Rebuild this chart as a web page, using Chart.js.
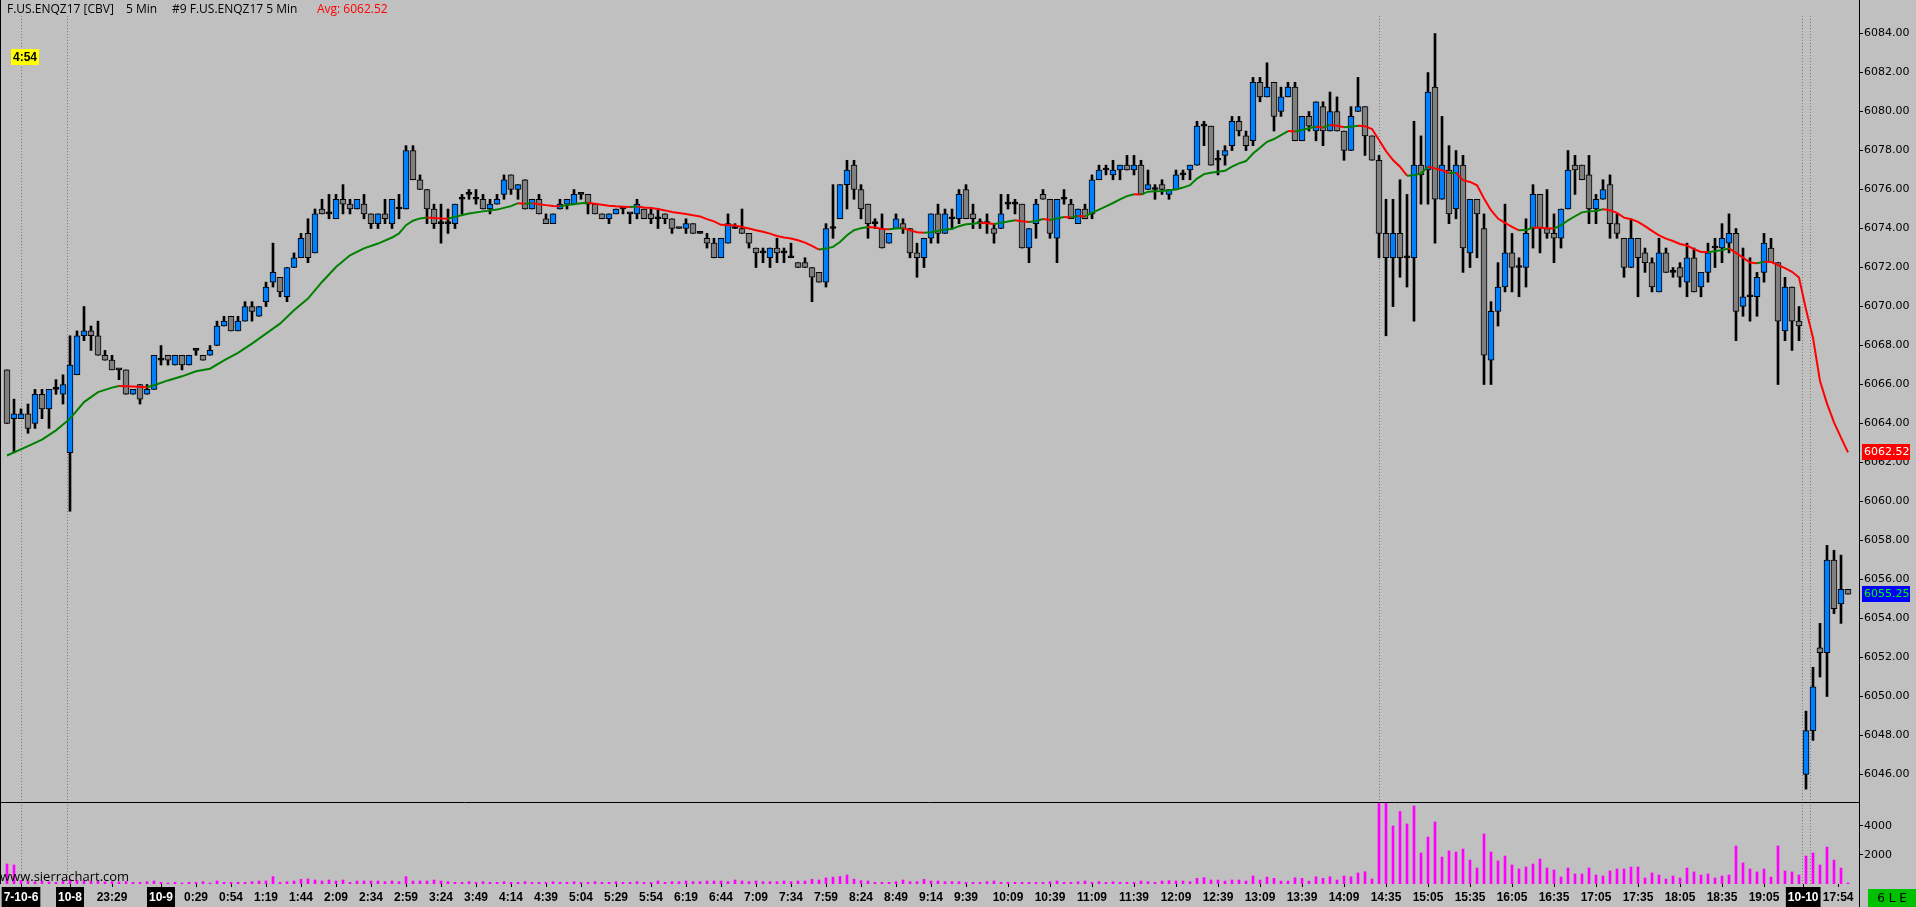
<!DOCTYPE html>
<html>
<head>
<meta charset="utf-8">
<title>F.US.ENQZ17 5 Min</title>
<script src="https://cdn.jsdelivr.net/npm/chart.js@4.4.0/dist/chart.umd.min.js"></script>
<style>
  html, body { margin: 0; padding: 0; background: #c0c0c0; overflow: hidden; }
  canvas { display: block; }
</style>
</head>
<body>
<canvas id="grafico" width="1916" height="907"></canvas>
<script>
// 5 min bars (bar 0 = first bar on the left)
const opens = [
  6066.75, 6064.25, 6064.25, 6064.5, 6064.0, 6065.5, 6064.75, 6065.75, 6065.5, 6062.5,
  6066.5, 6068.5, 6068.75, 6068.5, 6067.5, 6067.25, 6066.75, 6066.75, 6065.5, 6066.0,
  6065.5, 6065.75, 6067.25, 6067.5, 6067.0, 6067.5, 6067.0, 6067.75, 6067.5, 6067.5,
  6068.0, 6069.0, 6069.5, 6068.75, 6069.25, 6070.0, 6069.5, 6070.25, 6071.25, 6071.5,
  6070.5, 6072.0, 6072.5, 6073.75, 6072.75, 6075.0, 6074.75, 6074.5, 6075.5, 6075.25,
  6075.0, 6075.25, 6074.75, 6074.25, 6074.75, 6074.25, 6075.0, 6075.0, 6078.0, 6076.5,
  6076.0, 6075.0, 6074.25, 6074.25, 6074.25, 6075.5, 6075.75, 6075.5, 6075.5, 6075.0,
  6075.25, 6075.75, 6076.75, 6076.0, 6076.5, 6075.0, 6075.5, 6074.5, 6074.25, 6075.0,
  6075.25, 6075.25, 6075.75, 6075.75, 6075.25, 6074.75, 6074.5, 6074.75, 6075.0, 6074.75,
  6074.75, 6075.0, 6074.75, 6074.5, 6074.75, 6074.5, 6074.0, 6074.0, 6074.25, 6073.75,
  6073.5, 6073.25, 6072.5, 6073.25, 6074.0, 6074.0, 6073.75, 6073.0, 6072.75, 6072.5,
  6073.0, 6072.75, 6072.5, 6072.25, 6072.25, 6072.0, 6071.75, 6071.25, 6074.0, 6074.5,
  6076.25, 6077.25, 6076.0, 6075.25, 6074.25, 6074.0, 6073.25, 6074.0, 6074.25, 6074.0,
  6072.75, 6072.5, 6073.5, 6074.75, 6073.75, 6074.5, 6074.5, 6076.0, 6074.75, 6074.25,
  6074.25, 6074.0, 6074.0, 6075.25, 6075.25, 6075.25, 6073.0, 6074.25, 6075.75, 6075.5,
  6073.5, 6075.5, 6075.25, 6074.25, 6075.0, 6074.75, 6076.5, 6077.0, 6076.75, 6077.0,
  6077.25, 6077.0, 6077.25, 6076.0, 6076.0, 6076.25, 6075.75, 6076.0, 6076.75, 6077.0,
  6077.25, 6079.25, 6079.25, 6077.5, 6077.75, 6078.25, 6079.5, 6078.75, 6078.5, 6081.5,
  6080.75, 6081.5, 6080.0, 6080.75, 6081.25, 6078.5, 6079.75, 6079.0, 6080.25, 6079.0,
  6080.0, 6079.0, 6078.0, 6080.0, 6080.25, 6078.75, 6077.5, 6073.75, 6072.5, 6073.75,
  6072.5, 6072.5, 6077.25, 6077.0, 6081.25, 6075.5, 6077.0, 6075.0, 6077.25, 6072.75,
  6075.5, 6074.0, 6067.25, 6069.75, 6071.0, 6072.75, 6072.0, 6072.0, 6074.0, 6075.75,
  6074.0, 6073.75, 6073.5, 6075.0, 6077.25, 6077.25, 6076.75, 6075.0, 6075.5, 6076.25,
  6074.25, 6073.5, 6072.0, 6073.5, 6072.75, 6072.25, 6070.75, 6072.75, 6071.75, 6072.0,
  6071.25, 6072.5, 6071.0, 6071.75, 6073.0, 6073.0, 6073.25, 6073.75, 6070.0, 6070.5,
  6070.5, 6071.75, 6073.0, 6072.25, 6068.75, 6071.0, 6069.25, 6046.0, 6048.25, 6052.5,
  6052.25, 6057.0, 6054.75, 6055.5
];
const highs = [
  6066.75, 6065.25, 6064.75, 6065.0, 6065.75, 6065.75, 6065.75, 6066.25, 6066.5, 6068.5,
  6068.75, 6070.0, 6069.0, 6069.25, 6067.75, 6067.5, 6066.75, 6066.75, 6065.75, 6066.0,
  6066.0, 6067.5, 6068.0, 6067.5, 6067.5, 6067.5, 6067.5, 6067.75, 6067.5, 6068.0,
  6069.25, 6069.5, 6069.5, 6069.5, 6070.25, 6070.25, 6070.0, 6071.25, 6073.25, 6071.5,
  6072.0, 6072.75, 6073.75, 6074.5, 6075.0, 6075.5, 6075.75, 6075.75, 6076.25, 6075.5,
  6075.5, 6075.75, 6074.75, 6074.75, 6075.5, 6075.5, 6075.75, 6078.25, 6078.25, 6076.75,
  6076.0, 6075.25, 6075.25, 6075.0, 6075.25, 6075.75, 6076.0, 6076.0, 6075.75, 6075.5,
  6075.75, 6076.75, 6076.75, 6076.25, 6076.5, 6075.5, 6075.75, 6074.75, 6074.75, 6075.5,
  6075.5, 6076.0, 6075.75, 6075.75, 6075.25, 6074.75, 6074.75, 6075.0, 6075.0, 6074.75,
  6075.5, 6075.0, 6075.0, 6075.0, 6074.75, 6074.5, 6074.0, 6074.5, 6074.25, 6073.75,
  6073.75, 6073.5, 6073.5, 6074.75, 6074.25, 6075.0, 6073.75, 6073.0, 6073.0, 6073.0,
  6073.5, 6073.0, 6073.25, 6072.25, 6072.5, 6072.0, 6071.75, 6074.25, 6076.25, 6076.25,
  6077.5, 6077.5, 6076.25, 6075.25, 6074.5, 6074.75, 6073.75, 6074.75, 6074.5, 6074.0,
  6073.25, 6073.5, 6074.75, 6075.25, 6075.0, 6075.0, 6076.0, 6076.25, 6075.25, 6074.5,
  6074.75, 6074.25, 6075.75, 6075.75, 6075.5, 6075.25, 6074.0, 6075.5, 6076.0, 6075.5,
  6075.5, 6076.0, 6075.5, 6075.0, 6075.25, 6076.75, 6077.25, 6077.25, 6077.5, 6077.25,
  6077.75, 6077.75, 6077.5, 6077.0, 6076.25, 6076.5, 6076.0, 6077.0, 6077.0, 6077.25,
  6079.5, 6079.5, 6079.25, 6078.0, 6078.25, 6079.75, 6079.75, 6079.0, 6081.75, 6081.75,
  6082.5, 6081.5, 6081.25, 6081.5, 6081.5, 6079.75, 6080.0, 6080.5, 6080.5, 6081.0,
  6080.75, 6079.0, 6080.25, 6081.75, 6080.25, 6078.75, 6077.75, 6075.5, 6075.5, 6076.5,
  6075.75, 6079.5, 6078.75, 6082.0, 6084.0, 6079.75, 6078.25, 6078.0, 6077.75, 6075.5,
  6075.5, 6074.75, 6070.25, 6072.25, 6075.25, 6073.75, 6072.5, 6074.5, 6076.25, 6075.75,
  6076.0, 6074.75, 6075.0, 6078.0, 6077.75, 6077.25, 6077.75, 6075.75, 6076.5, 6076.75,
  6074.75, 6073.5, 6074.5, 6073.5, 6073.0, 6072.5, 6073.5, 6073.0, 6072.0, 6072.25,
  6073.25, 6073.0, 6071.75, 6073.25, 6073.5, 6074.25, 6074.75, 6074.0, 6073.0, 6072.5,
  6071.75, 6073.75, 6073.5, 6072.25, 6071.5, 6071.0, 6070.0, 6049.25, 6051.5, 6053.75,
  6057.75, 6057.5, 6057.25, 6055.5
];
const lows = [
  6064.0, 6062.5, 6064.25, 6063.5, 6063.75, 6064.25, 6063.75, 6065.5, 6065.0, 6059.5,
  6066.5, 6068.25, 6067.75, 6067.5, 6067.25, 6066.75, 6066.25, 6065.5, 6065.5, 6065.0,
  6065.5, 6065.75, 6067.0, 6067.0, 6067.0, 6066.75, 6067.0, 6067.5, 6067.25, 6067.5,
  6068.0, 6069.0, 6068.75, 6068.75, 6069.25, 6069.25, 6069.5, 6070.0, 6071.0, 6070.5,
  6070.25, 6072.0, 6072.5, 6072.25, 6072.75, 6074.75, 6074.5, 6074.5, 6074.75, 6074.75,
  6075.0, 6074.5, 6074.0, 6074.0, 6074.25, 6074.0, 6074.5, 6075.0, 6076.5, 6076.0,
  6074.25, 6074.0, 6073.25, 6073.75, 6074.0, 6074.75, 6075.5, 6075.25, 6075.0, 6074.75,
  6075.25, 6075.5, 6075.75, 6075.5, 6075.0, 6075.0, 6074.75, 6074.25, 6074.25, 6075.0,
  6075.0, 6075.25, 6075.5, 6074.75, 6074.75, 6074.5, 6074.25, 6074.75, 6074.75, 6074.25,
  6074.5, 6074.5, 6074.25, 6074.0, 6074.25, 6073.75, 6074.0, 6073.75, 6073.75, 6073.75,
  6073.0, 6072.5, 6072.5, 6073.25, 6074.0, 6073.75, 6073.0, 6072.0, 6072.25, 6072.0,
  6072.25, 6072.25, 6072.5, 6072.0, 6072.0, 6070.25, 6071.25, 6071.0, 6073.5, 6074.5,
  6075.0, 6075.5, 6074.5, 6073.5, 6074.0, 6073.0, 6073.25, 6074.0, 6073.75, 6072.5,
  6071.5, 6072.0, 6073.25, 6073.25, 6073.75, 6074.0, 6074.25, 6074.5, 6074.0, 6074.0,
  6073.75, 6073.25, 6074.0, 6075.0, 6074.75, 6073.0, 6072.25, 6073.5, 6075.5, 6073.5,
  6072.25, 6075.25, 6074.5, 6074.25, 6074.5, 6074.5, 6076.5, 6076.75, 6076.5, 6076.5,
  6077.0, 6076.75, 6075.75, 6076.0, 6075.5, 6075.75, 6075.5, 6076.0, 6076.5, 6076.5,
  6077.25, 6078.25, 6077.25, 6076.75, 6077.25, 6078.0, 6078.75, 6078.0, 6078.25, 6080.5,
  6080.75, 6079.0, 6079.75, 6080.75, 6078.5, 6078.5, 6079.0, 6078.5, 6078.25, 6079.0,
  6079.0, 6077.5, 6078.0, 6080.0, 6077.75, 6077.5, 6072.5, 6068.5, 6070.0, 6071.5,
  6071.0, 6069.25, 6075.25, 6075.25, 6073.25, 6075.5, 6074.25, 6074.5, 6071.75, 6072.0,
  6072.5, 6066.0, 6066.0, 6069.0, 6070.75, 6070.75, 6070.5, 6071.0, 6073.0, 6072.75,
  6073.5, 6072.25, 6073.0, 6075.0, 6075.75, 6076.5, 6074.25, 6074.25, 6075.5, 6073.5,
  6073.5, 6071.5, 6072.0, 6070.5, 6071.75, 6070.75, 6070.75, 6071.75, 6071.5, 6071.0,
  6070.5, 6070.75, 6070.5, 6071.25, 6072.0, 6072.25, 6072.75, 6068.25, 6069.5, 6069.25,
  6069.5, 6071.25, 6072.25, 6066.0, 6068.25, 6067.75, 6068.25, 6045.25, 6047.75, 6051.0,
  6050.0, 6054.25, 6053.75, 6055.25
];
const closes = [
  6064.0, 6064.5, 6064.5, 6063.75, 6065.5, 6064.75, 6065.75, 6065.75, 6066.0, 6067.0,
  6068.5, 6068.75, 6068.5, 6067.5, 6067.25, 6066.75, 6066.75, 6065.5, 6065.75, 6065.25,
  6065.75, 6067.5, 6067.25, 6067.25, 6067.5, 6067.0, 6067.5, 6067.75, 6067.25, 6067.75,
  6069.0, 6069.25, 6068.75, 6069.25, 6070.0, 6069.75, 6070.0, 6071.0, 6071.75, 6070.75,
  6072.0, 6072.5, 6073.5, 6072.5, 6074.75, 6074.75, 6074.75, 6075.5, 6075.25, 6075.0,
  6075.5, 6074.75, 6074.25, 6074.75, 6074.5, 6075.5, 6075.0, 6078.0, 6076.5, 6076.0,
  6075.0, 6074.25, 6074.25, 6074.25, 6075.25, 6075.5, 6075.75, 6075.5, 6075.0, 6075.25,
  6075.5, 6076.5, 6076.0, 6076.25, 6075.0, 6075.5, 6074.75, 6074.25, 6074.75, 6075.25,
  6075.5, 6075.75, 6075.75, 6075.25, 6074.75, 6074.5, 6074.75, 6075.0, 6075.0, 6074.75,
  6075.25, 6074.5, 6074.5, 6074.5, 6074.5, 6074.0, 6074.0, 6074.25, 6073.75, 6073.75,
  6073.25, 6072.5, 6073.5, 6074.25, 6074.0, 6073.75, 6073.25, 6072.75, 6072.75, 6073.0,
  6072.75, 6072.75, 6072.5, 6072.0, 6072.0, 6071.5, 6071.25, 6074.0, 6074.0, 6076.25,
  6077.0, 6076.0, 6075.0, 6074.25, 6074.25, 6073.0, 6073.75, 6074.5, 6074.0, 6072.75,
  6072.5, 6073.5, 6074.75, 6073.75, 6074.75, 6074.5, 6075.75, 6074.5, 6074.5, 6074.25,
  6074.25, 6073.75, 6074.75, 6075.25, 6075.25, 6073.0, 6074.0, 6075.25, 6075.5, 6073.75,
  6075.5, 6075.5, 6074.5, 6075.0, 6074.5, 6076.5, 6077.0, 6077.0, 6077.0, 6077.25,
  6077.0, 6077.25, 6075.75, 6076.25, 6076.0, 6076.0, 6076.0, 6076.75, 6076.75, 6077.25,
  6079.25, 6079.25, 6077.25, 6077.5, 6078.0, 6079.5, 6079.0, 6078.25, 6081.5, 6080.75,
  6081.25, 6079.75, 6080.75, 6081.25, 6078.5, 6079.75, 6079.25, 6080.5, 6079.0, 6080.0,
  6079.0, 6078.0, 6079.75, 6080.25, 6078.75, 6077.5, 6073.75, 6072.5, 6073.75, 6072.5,
  6072.5, 6077.25, 6076.75, 6081.0, 6075.5, 6077.25, 6074.75, 6077.25, 6073.0, 6075.5,
  6074.75, 6067.5, 6069.75, 6071.0, 6072.75, 6072.0, 6072.0, 6073.75, 6075.75, 6074.0,
  6073.75, 6073.5, 6075.0, 6077.0, 6077.0, 6076.5, 6075.0, 6075.5, 6076.0, 6074.25,
  6073.75, 6072.0, 6073.5, 6072.5, 6072.25, 6071.0, 6072.75, 6071.75, 6071.75, 6071.5,
  6072.5, 6070.75, 6071.75, 6072.75, 6073.0, 6073.5, 6073.75, 6069.75, 6070.5, 6070.5,
  6071.5, 6073.25, 6072.25, 6069.25, 6071.0, 6069.25, 6069.0, 6048.25, 6050.5, 6052.25,
  6057.0, 6054.5, 6055.5, 6055.25
];
const volumes = [
  1380, 1310, 250, 200, 150, 200, 150, 120, 200, 300,
  250, 220, 200, 180, 150, 160, 140, 180, 115, 115,
  160, 207, 115, 70, 115, 70, 115, 115, 160, 70,
  207, 115, 115, 115, 115, 160, 207, 207, 506, 115,
  160, 207, 322, 345, 276, 207, 276, 207, 276, 115,
  207, 207, 207, 207, 160, 207, 160, 506, 207, 207,
  207, 276, 207, 160, 115, 115, 160, 115, 160, 115,
  115, 160, 115, 115, 160, 115, 115, 115, 160, 115,
  115, 160, 115, 115, 160, 115, 115, 160, 115, 115,
  160, 115, 115, 207, 115, 160, 160, 207, 160, 160,
  207, 207, 207, 160, 276, 207, 160, 207, 160, 160,
  160, 207, 160, 207, 207, 322, 276, 420, 480, 520,
  620, 330, 230, 207, 115, 115, 115, 160, 276, 160,
  160, 322, 207, 207, 160, 160, 160, 115, 115, 115,
  160, 207, 115, 115, 115, 115, 115, 115, 115, 160,
  207, 115, 115, 160, 207, 115, 160, 115, 160, 115,
  115, 115, 207, 160, 115, 207, 230, 207, 207, 160,
  390, 440, 275, 275, 200, 275, 275, 200, 550, 275,
  480, 390, 200, 200, 430, 390, 200, 500, 390, 500,
  275, 550, 500, 760, 850, 345, 5650, 5650, 4000, 5000,
  4140, 5380, 2140, 3240, 4280, 1860, 2280, 2200, 2410, 1650,
  1100, 3450, 2200, 1590, 1930, 1310, 1035, 1170, 1380, 1720,
  1100, 970, 480, 1100, 690, 690, 1100, 620, 550, 900,
  1035, 1035, 1170, 1170, 414, 760, 620, 345, 550, 414,
  1100, 830, 620, 690, 414, 550, 620, 2620, 1450, 1035,
  830, 1035, 480, 2620, 900, 830, 620, 1930, 2140, 1310,
  2550, 1650, 1100, 70
];

// moving average, read at these bars
const maBars = [
  0, 3, 5, 7, 9, 10, 11, 13, 15, 16, 18, 20, 21, 23, 25, 27, 29, 31, 33, 35,
  37, 39, 41, 43, 45, 47, 49, 51, 53, 55, 56, 57, 58, 59, 60, 61, 62, 63, 64, 66,
  68, 70, 72, 73, 74, 75, 76, 77, 78, 79, 80, 81, 82, 83, 84, 85, 86, 87, 88, 89,
  90, 91, 92, 93, 94, 95, 96, 97, 98, 99, 100, 101, 102, 104, 105, 106, 107, 108, 109, 110,
  111, 112, 113, 114, 115, 116, 117, 118, 119, 120, 121, 122, 123, 124, 125, 126, 127, 128, 129, 130,
  131, 132, 133, 134, 135, 136, 137, 138, 139, 140, 141, 142, 143, 144, 145, 146, 147, 148, 149, 150,
  151, 152, 153, 154, 155, 156, 157, 158, 159, 160, 161, 162, 163, 164, 165, 166, 167, 168, 169, 170,
  171, 172, 173, 174, 175, 176, 177, 178, 179, 180, 181, 182, 183, 184, 185, 186, 187, 188, 189, 190,
  191, 192, 193, 194, 195, 196, 197, 198, 199, 200, 201, 202, 203, 204, 205, 206, 207, 208, 209, 210,
  211, 212, 213, 214, 215, 216, 217, 218, 219, 220, 221, 222, 223, 224, 225, 226, 227, 228, 229, 230,
  231, 232, 233, 234, 235, 236, 237, 238, 239, 240, 241, 242, 243, 244, 245, 246, 247, 248, 249, 250,
  251, 252, 253, 254, 255, 256, 257, 258, 259, 260, 261, 262, 263
];
const maValues = [
  6062.36, 6062.84, 6063.17, 6063.65, 6064.25, 6064.67, 6065.10, 6065.61, 6065.84, 6065.92,
  6065.90, 6065.86, 6065.96, 6066.21, 6066.42, 6066.68, 6066.81, 6067.24, 6067.62, 6068.10,
  6068.61, 6069.12, 6069.81, 6070.41, 6071.26, 6072.03, 6072.63, 6072.98, 6073.23, 6073.54,
  6073.75, 6074.17, 6074.40, 6074.52, 6074.56, 6074.54, 6074.52, 6074.50, 6074.60, 6074.77,
  6074.88, 6074.97, 6075.15, 6075.30, 6075.27, 6075.30, 6075.25, 6075.20, 6075.16, 6075.14,
  6075.20, 6075.25, 6075.30, 6075.32, 6075.27, 6075.22, 6075.17, 6075.14, 6075.12, 6075.10,
  6075.13, 6075.08, 6075.05, 6075.00, 6074.93, 6074.85, 6074.80, 6074.75, 6074.68, 6074.62,
  6074.48, 6074.37, 6074.19, 6074.15, 6074.08, 6074.00, 6073.91, 6073.83, 6073.74, 6073.62,
  6073.54, 6073.49, 6073.40, 6073.28, 6073.11, 6072.92, 6072.97, 6073.06, 6073.31, 6073.66,
  6073.91, 6074.02, 6074.08, 6074.05, 6073.98, 6073.96, 6074.00, 6074.02, 6073.91, 6073.81,
  6073.78, 6073.81, 6073.88, 6073.95, 6073.98, 6074.12, 6074.22, 6074.25, 6074.29, 6074.27,
  6074.23, 6074.29, 6074.36, 6074.42, 6074.37, 6074.34, 6074.39, 6074.49, 6074.44, 6074.51,
  6074.59, 6074.57, 6074.64, 6074.62, 6074.80, 6074.97, 6075.14, 6075.31, 6075.50, 6075.66,
  6075.76, 6075.74, 6075.89, 6075.91, 6075.93, 6075.96, 6076.00, 6076.10, 6076.22, 6076.56,
  6076.79, 6076.86, 6076.91, 6076.96, 6077.17, 6077.34, 6077.46, 6077.85, 6078.14, 6078.45,
  6078.59, 6078.79, 6079.00, 6078.98, 6079.05, 6079.14, 6079.22, 6079.18, 6079.31, 6079.27,
  6079.19, 6079.22, 6079.27, 6079.25, 6079.10, 6078.54, 6077.97, 6077.51, 6077.17, 6076.71,
  6076.73, 6076.83, 6077.17, 6077.08, 6076.99, 6076.85, 6076.86, 6076.48, 6076.39, 6076.22,
  6075.54, 6074.94, 6074.51, 6074.29, 6074.08, 6073.91, 6073.92, 6074.05, 6074.04, 6074.02,
  6074.00, 6074.17, 6074.42, 6074.63, 6074.83, 6074.89, 6074.90, 6074.99, 6074.94, 6074.80,
  6074.56, 6074.48, 6074.34, 6074.12, 6073.88, 6073.65, 6073.48, 6073.36, 6073.21, 6073.13,
  6072.94, 6072.80, 6072.79, 6072.84, 6072.90, 6072.98, 6072.75, 6072.51, 6072.26, 6072.22,
  6072.30, 6072.28, 6072.13, 6071.97, 6071.78, 6071.49, 6069.85, 6068.40, 6066.18, 6065.02,
  6064.06, 6063.28, 6062.52
];

// time axis labels and where they sit (bar position)
const xTickBars = [
  2.0, 9, 15, 22, 27, 32, 37, 42, 47, 52, 57, 62, 67, 72, 77, 82, 87, 92, 97, 102,
  107, 112, 117, 122, 127, 132, 137, 143, 149, 155, 161, 167, 173, 179, 185, 191, 197, 203, 209, 215,
  221, 227, 233, 239, 245, 251, 256.6, 261.6
];
const xTickLabels = [
  '7-10-6', '10-8', '23:29', '10-9', '0:29', '0:54', '1:19', '1:44', '2:09', '2:34',
  '2:59', '3:24', '3:49', '4:14', '4:39', '5:04', '5:29', '5:54', '6:19', '6:44',
  '7:09', '7:34', '7:59', '8:24', '8:49', '9:14', '9:39', '10:09', '10:39', '11:09',
  '11:39', '12:09', '12:39', '13:09', '13:39', '14:09', '14:35', '15:05', '15:35', '16:05',
  '16:35', '17:05', '17:35', '18:05', '18:35', '19:05', '10-10', '17:54'
];
const dateLabels = ['7-10-6', '10-8', '10-9', '10-10'];
const priceTicks = [6046, 6048, 6050, 6052, 6054, 6056, 6058, 6060, 6062, 6064,
  6066, 6068, 6070, 6072, 6074, 6076, 6078, 6080, 6082, 6084];
const volumeTicks = [2000, 4000];
const sessionLines = [2.07, 8.64, 196, 256.57, 257.71];

const UP = '#0080ff';
const DOWN = '#808080';
const plotWidth = 1859;
const barStep = 7;

const idx = closes.map((c, i) => i);
const bodies = idx.map(i => ({ x: i, y: [Math.min(opens[i], closes[i]), Math.max(opens[i], closes[i])] }));
const wicks = idx.map(i => ({ x: i, y: [lows[i], highs[i]] }));
const bodyColors = idx.map(i => closes[i] > opens[i] ? UP : (closes[i] < opens[i] ? DOWN : '#000000'));
const volData = volumes.map((v, i) => ({ x: i, y: v }));
const maData = maBars.map((b, k) => ({ x: b, y: maValues[k] }));

const lastClose = closes[closes.length - 1];
const lastAvg = maValues[maValues.length - 1];

const textFont = '"Open Sans", "Noto Sans", sans-serif';
const axisFont = '"DejaVu Sans", Verdana, sans-serif';
const labelFont = '"Liberation Sans", Arial, sans-serif';

function priceBox(c, y, value, bg, fg) {
  c.fillStyle = bg;
  c.fillRect(1862, Math.round(y) - 8, 48, 16);
  c.fillStyle = fg;
  c.font = '11px ' + axisFont;
  c.textAlign = 'left';
  c.textBaseline = 'middle';
  c.fillText(value.toFixed(2), 1864, Math.round(y));
}

const decor = {
  id: 'decor',
  beforeDraw(chart) {
    const c = chart.ctx;
    c.save();
    c.fillStyle = '#c0c0c0';
    c.fillRect(0, 0, chart.width, chart.height);
    c.restore();
  },
  beforeDatasetsDraw(chart) {
    const c = chart.ctx;
    const sx = chart.scales.x;
    c.save();
    c.strokeStyle = '#7c7c7c';
    c.lineWidth = 1;
    c.setLineDash([1, 2]);
    sessionLines.forEach(b => {
      const px = Math.floor(sx.getPixelForValue(b)) + 0.5;
      c.beginPath();
      c.moveTo(px, 16);
      c.lineTo(px, chart.chartArea.bottom);
      c.stroke();
    });
    c.restore();
  },
  afterDraw(chart) {
    const c = chart.ctx;
    const area = chart.chartArea;
    const ys = chart.scales.y;
    c.save();

    // frame lines
    c.strokeStyle = '#000';
    c.lineWidth = 1;
    c.beginPath();
    c.moveTo(0, Math.round(ys.bottom) + 0.5);
    c.lineTo(area.right, Math.round(ys.bottom) + 0.5);
    c.moveTo(Math.round(area.right) + 0.5, 0);
    c.lineTo(Math.round(area.right) + 0.5, chart.height);
    c.moveTo(0.5, 0);
    c.lineTo(0.5, area.bottom);
    c.stroke();

    // header
    c.textBaseline = 'middle';
    c.textAlign = 'left';
    c.font = '12px ' + textFont;
    c.fillStyle = '#000';
    c.fillText('F.US.ENQZ17 [CBV]', 7, 10);
    c.fillText('5 Min', 126, 10);
    c.fillText('#9 F.US.ENQZ17 5 Min', 172, 10);
    c.fillStyle = '#ff0000';
    c.fillText('Avg: ' + lastAvg.toFixed(2), 317, 10);

    // bar timer
    c.fillStyle = '#ffff00';
    c.fillRect(11, 49, 28, 16);
    c.fillStyle = '#000';
    c.font = 'bold 12px ' + labelFont;
    c.textAlign = 'center';
    c.fillText('4:54', 25, 57.5);

    // watermark
    c.textAlign = 'left';
    c.font = '13px ' + textFont;
    c.fillText('www.sierrachart.com', 0, 877);

    // price markers on the axis
    priceBox(c, ys.getPixelForValue(lastAvg), lastAvg, '#ff0000', '#ffffff');
    priceBox(c, ys.getPixelForValue(lastClose), lastClose, '#0000ff', '#00ff00');

    // status box bottom right
    c.fillStyle = '#00c000';
    c.fillRect(1868, 889, 48, 18);
    c.fillStyle = '#000';
    c.font = '12px ' + axisFont;
    c.textAlign = 'center';
    c.fillText('6 L E', 1892, 898.5);
    c.restore();
  }
};

new Chart(document.getElementById('grafico'), {
  type: 'bar',
  data: {
    datasets: [
      {
        type: 'line',
        data: maData,
        yAxisID: 'y',
        borderWidth: 2,
        borderColor: '#008000',
        pointRadius: 0,
        tension: 0,
        segment: {
          borderColor: ctx => ctx.p1.parsed.y < ctx.p0.parsed.y ? '#ff0000' : '#008000'
        }
      },
      {
        data: bodies,
        yAxisID: 'y',
        grouped: false,
        barThickness: 6,
        minBarLength: 2,
        backgroundColor: bodyColors,
        borderColor: '#000',
        borderWidth: 1,
        borderSkipped: false
      },
      {
        data: wicks,
        yAxisID: 'y',
        grouped: false,
        barThickness: 2,
        backgroundColor: '#000',
        borderWidth: 0
      },
      {
        data: volData,
        yAxisID: 'yv',
        grouped: false,
        barThickness: 2,
        backgroundColor: '#ff00ff',
        borderWidth: 0
      }
    ]
  },
  options: {
    responsive: false,
    animation: false,
    devicePixelRatio: 1,
    layout: { padding: 0 },
    plugins: {
      legend: { display: false },
      tooltip: { enabled: false }
    },
    scales: {
      x: {
        type: 'linear',
        position: 'bottom',
        min: -1,
        max: -1 + plotWidth / barStep,
        offset: false,
        grid: { display: true, offset: false, drawOnChartArea: false, drawTicks: true, tickLength: 3, color: '#000' },
        border: { display: false },
        afterBuildTicks: s => { s.ticks = xTickBars.map(v => ({ value: v })); },
        afterFit: s => { s.height = 23; s.paddingLeft = 0; s.paddingRight = 0; },
        ticks: {
          autoSkip: false,
          maxRotation: 0,
          minRotation: 0,
          padding: 3,
          font: { family: labelFont, size: 12, weight: 'bold' },
          color: ctx => dateLabels.includes(xTickLabels[ctx.index]) ? '#ffffff' : '#000000',
          showLabelBackdrop: ctx => dateLabels.includes(xTickLabels[ctx.index]),
          backdropColor: '#000',
          backdropPadding: { top: 3, bottom: 3, left: 2, right: 2 },
          callback: (v, i) => xTickLabels[i]
        }
      },
      y: {
        type: 'linear',
        position: 'right',
        stack: 'panes',
        stackWeight: 802,
        min: 6044.59,
        max: 6085.72,
        grid: { display: true, drawOnChartArea: false, drawTicks: true, tickLength: 4, color: '#000' },
        border: { display: false },
        afterBuildTicks: s => { s.ticks = priceTicks.map(v => ({ value: v })); },
        afterFit: s => { s.width = 57; s.paddingTop = 0; s.paddingBottom = 0; },
        ticks: {
          padding: 1,
          font: { family: axisFont, size: 11 },
          color: '#000',
          callback: v => v.toFixed(2)
        }
      },
      yv: {
        type: 'linear',
        position: 'right',
        stack: 'panes',
        stackWeight: 82,
        min: 0,
        max: 5655,
        grid: { display: true, drawOnChartArea: false, drawTicks: true, tickLength: 4, color: '#000' },
        border: { display: false },
        afterBuildTicks: s => { s.ticks = volumeTicks.map(v => ({ value: v })); },
        afterFit: s => { s.width = 57; s.paddingTop = 0; s.paddingBottom = 0; },
        ticks: {
          padding: 1,
          font: { family: axisFont, size: 11 },
          color: '#000',
          callback: v => String(v)
        }
      }
    }
  },
  plugins: [decor]
});
</script>
</body>
</html>
